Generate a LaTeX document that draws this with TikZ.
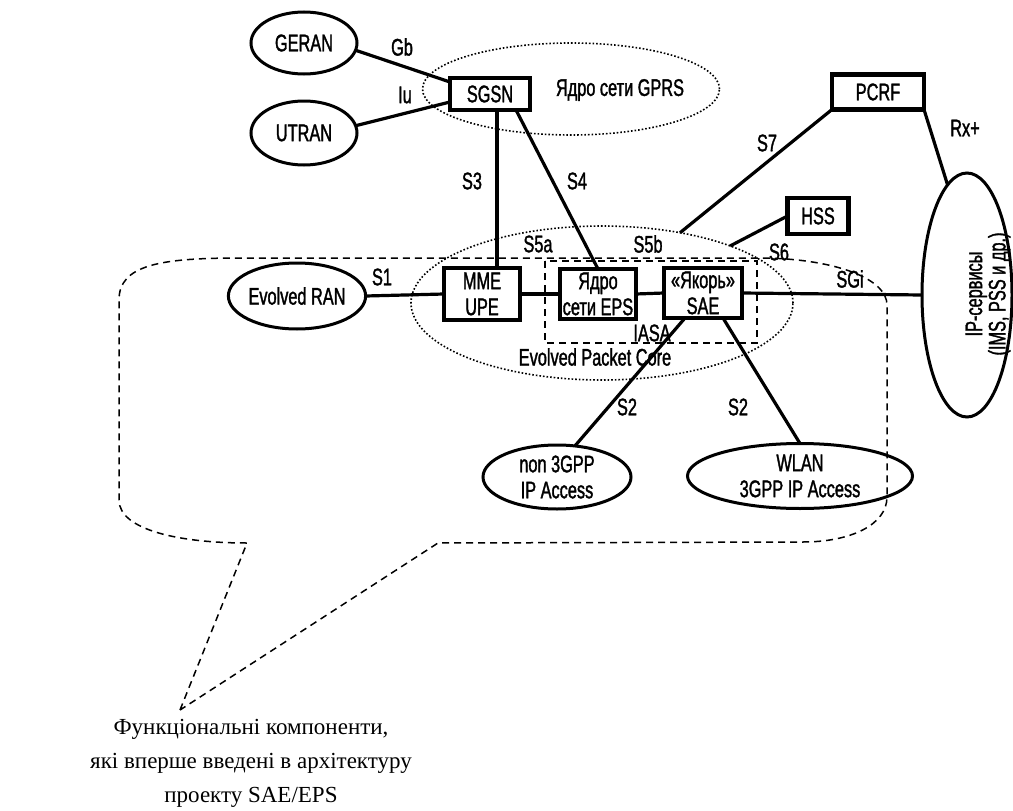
\documentclass[tikz,border=0pt]{standalone}
\usepackage{fontspec}
\setmainfont{Liberation Serif}
\newfontfamily\diafont[FakeStretch=0.68,FakeBold=1.4]{Liberation Sans}
\usetikzlibrary{shapes.geometric}

\tikzset{
  netbox/.style={draw, line width=4.6pt, inner sep=0pt, outer sep=0pt, align=center},
  netoval/.style={draw, ellipse, line width=3pt, inner sep=0pt, outer sep=0pt, align=center},
  coreoval/.style={draw, ellipse, dotted, line width=1.6pt, inner sep=0pt, outer sep=0pt},
  link/.style={line width=3.2pt},
  callout/.style={dash pattern=on 7pt off 5pt, line width=1.5pt},
  lbl/.style={inner sep=0pt}
}

\begin{document}
\begin{tikzpicture}[x=1pt,y=-1pt,every node/.style={font=\diafont\fontsize{24}{26}\selectfont}]
\useasboundingbox (0,0) rectangle (1013,811);

% core networks
\node[coreoval, minimum width=297pt, minimum height=92pt] (gprs) at (571,89) {};
\node[coreoval, minimum width=382pt, minimum height=154pt] (epc) at (602,303) {};
\node[lbl] (gprstext) at (620,90) {Ядро сети GPRS};
\node[lbl] (epctext) at (595,357) {Evolved Packet Core};

% IASA frame
\draw[callout] (545,261) rectangle (757,343);
\node[lbl] (iasa) at (652,333) {IASA};

% access networks
\node[netoval, minimum width=106pt, minimum height=62pt] (geran) at (304,43) {GERAN};
\node[netoval, minimum width=106pt, minimum height=64pt] (utran) at (304,133) {UTRAN};
\node[netoval, minimum width=130pt, minimum height=66pt] (eran) at (297,296) {Evolved RAN};
\node[netoval, minimum width=148pt, minimum height=64pt] (nonip) at (557,477) {non 3GPP\\IP Access};
\node[netoval, minimum width=225pt, minimum height=65pt] (wlan) at (800,476) {WLAN\\3GPP IP Access};
\node[netoval, minimum width=90pt, minimum height=244pt] (ipsrv) at (967,295) {};
\node[lbl, rotate=90, align=center, font=\diafont\fontsize{24}{22}\selectfont] (iptext) at (988,294) {IP-сервисы\\(IMS, PSS и др.)};

% functional boxes
\node[netbox, minimum width=80pt, minimum height=32pt] (sgsn) at (490,94) {SGSN};
\node[netbox, minimum width=92pt, minimum height=35pt] (pcrf) at (878,92) {PCRF};
\node[netbox, minimum width=61pt, minimum height=36pt] (hss) at (818,216) {HSS};
\node[netbox, minimum width=76pt, minimum height=52pt] (mme) at (482,294) {MME\\UPE};
\node[netbox, minimum width=76pt, minimum height=50pt] (epsc) at (598,294) {Ядро\\сети EPS};
\node[netbox, minimum width=78pt, minimum height=50pt] (anchor) at (703,293) {«Якорь»\\SAE};

% interfaces
\draw[link] (geran.-8) -- ([yshift=12pt]sgsn.west);
\draw[link] (utran.8) -- ([yshift=-8pt]sgsn.west);
\draw[link] ([xshift=7pt]sgsn.south) -- ([xshift=7pt]sgsn.south |- mme.north);
\draw[link] ([xshift=26pt]sgsn.south) -- (epsc.north);
\draw[link] (eran.east) -- (mme.west);
\draw[link] (mme.east) -- (epsc.west);
\draw[link] (epsc.east) -- (anchor.west);
\draw[link] (anchor.east) -- (ipsrv.west);
\draw[link] (pcrf.south west) -- (epc.42);
\draw[link] (hss.west) -- (epc.24);
\draw[link] (pcrf.south east) -- (ipsrv.100);
\draw[link] ([xshift=-18pt]anchor.south) -- (nonip.60);
\draw[link] ([xshift=20pt]anchor.south) -- (wlan.north);

\node[lbl] (gb) at (402,47) {Gb};
\node[lbl] (iu) at (405,95) {Iu};
\node[lbl] (s3) at (472,181) {S3};
\node[lbl] (s4) at (577,181) {S4};
\node[lbl] (s7) at (767,143) {S7};
\node[lbl] (rx) at (965,128) {Rx+};
\node[lbl] (s6) at (779,252) {S6};
\node[lbl] (sgi) at (850,279) {SGi};
\node[lbl] (s1) at (382,277) {S1};
\node[lbl] (s5a) at (538,244) {S5a};
\node[lbl] (s5b) at (648,244) {S5b};
\node[lbl] (s2a) at (627,407) {S2};
\node[lbl] (s2b) at (738,407) {S2};

% callout
\coordinate (tip) at (180,710);
\draw[callout] (tip) -- (247,543) .. controls (180,543) and (119,530) .. (119,500)
  -- (119,300) .. controls (119,265) and (160,258) .. (240,258) -- (767,258)
  .. controls (840,260) and (887,280) .. (887,305) -- (887,497)
  .. controls (887,525) and (850,542) .. (803,542) -- (438,543) -- cycle;
\node[anchor=north, inner sep=0pt, align=center, font=\rmfamily\fontsize{23}{34}\selectfont] (caption) at (251,719)
  {Функціональні компоненти,\\які вперше введені в архітектуру\\проекту SAE/EPS};

\end{tikzpicture}
\end{document}
